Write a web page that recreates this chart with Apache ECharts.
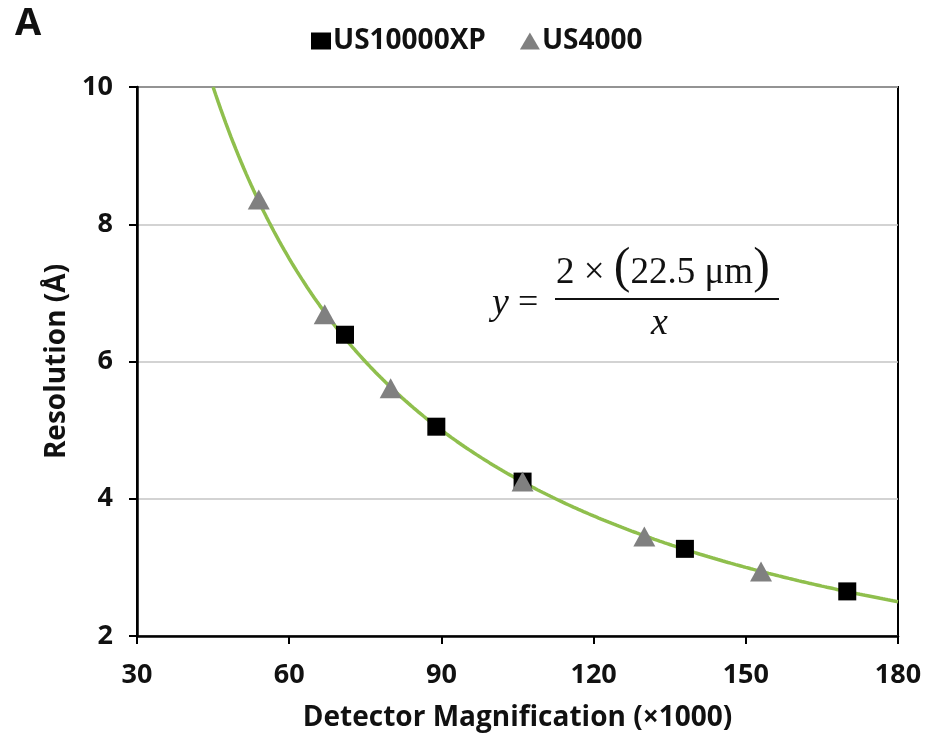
<!DOCTYPE html>
<html>
<head>
<meta charset="utf-8">
<script src="https://cdn.jsdelivr.net/npm/echarts@6/dist/echarts.min.js"></script>
<style>
  html, body { margin: 0; padding: 0; background: #fff; }
  #chart { width: 927px; height: 737px; }
</style>
</head>
<body>
<div id="chart"></div>
<script>
// Measured resolution (Å) against detector magnification (×1000)
const us10000xpMag = [71, 89, 106, 138, 170];
const us10000xpRes = [6.39, 5.05, 4.25, 3.27, 2.65];
const us4000Mag = [54, 67, 80, 106, 130, 153];
const us4000Res = [8.36, 6.69, 5.61, 4.25, 3.45, 2.94];

// Axis ticks
const xTicks = [30, 60, 90, 120, 150, 180];
const yTicks = [2, 4, 6, 8, 10];

// Theoretical limit: y = 2 × (pixel size) / x, pixel size in µm
const PIXEL_SIZE_UM = 22.5;
const CURVE_START = 45;
const CURVE_END = 180;
function nyquistAngstrom(magThousands) {
  // µm -> Å is ×1e4; magnification given in thousands
  return (2 * PIXEL_SIZE_UM * 1e4) / (magThousands * 1000);
}
const curve = [];
for (let m = CURVE_START; m <= CURVE_END; m += 0.5) {
  curve.push([m, nyquistAngstrom(m)]);
}

const pair = (xs, ys) => xs.map((x, i) => [x, ys[i]]);

const FONT = "'Open Sans', 'Noto Sans', sans-serif";
const SERIF = "'Liberation Serif', 'DejaVu Serif', serif";

const chart = echarts.init(document.getElementById('chart'), null, { renderer: 'canvas' });
chart.setOption({
  animation: false,
  backgroundColor: '#ffffff',
  title: {
    text: 'A',
    left: 10,
    top: 0,
    textStyle: { fontFamily: FONT, fontWeight: 'bold', fontSize: 38, color: '#111' }
  },
  legend: {
    left: 306,
    top: 22,
    itemWidth: 20,
    itemHeight: 17,
    itemGap: 34,
    textStyle: { fontFamily: FONT, fontWeight: 'bold', fontSize: 28, color: '#111', padding: [0, 0, 0, -3] },
    data: [
      { name: 'US10000XP', icon: 'rect' },
      { name: 'US4000', icon: 'triangle' }
    ]
  },
  grid: {
    left: 137,
    right: 29,
    top: 87,
    bottom: 101,
    show: true,
    borderColor: '#000',
    borderWidth: 2,
    backgroundColor: 'transparent'
  },
  xAxis: {
    type: 'value',
    min: xTicks[0],
    max: xTicks[xTicks.length - 1],
    interval: 30,
    name: 'Detector Magnification (×1000)',
    nameLocation: 'middle',
    nameGap: 68,
    nameTextStyle: { fontFamily: FONT, fontWeight: 'bold', fontSize: 28, color: '#111' },
    axisLine: { show: true, lineStyle: { color: '#000', width: 2.5 } },
    axisTick: { show: true, inside: false, length: 8, lineStyle: { color: '#000', width: 2 } },
    axisLabel: { margin: 26, fontFamily: FONT, fontWeight: 'bold', fontSize: 27, color: '#111' },
    splitLine: { show: false }
  },
  yAxis: {
    type: 'value',
    min: yTicks[0],
    max: yTicks[yTicks.length - 1],
    interval: 2,
    name: 'Resolution (Å)',
    nameLocation: 'middle',
    nameRotate: 90,
    nameGap: 62,
    nameTextStyle: { fontFamily: FONT, fontWeight: 'bold', fontSize: 28, color: '#111' },
    axisLine: { show: true, lineStyle: { color: '#000', width: 2.5 } },
    axisTick: { show: true, inside: false, length: 8, lineStyle: { color: '#000', width: 2 } },
    axisLabel: { margin: 24, fontFamily: FONT, fontWeight: 'bold', fontSize: 27, color: '#111' },
    splitLine: { show: true, lineStyle: { color: '#c4c4c4', width: 1.5 } }
  },
  graphic: [
    {
      type: 'text',
      left: 492,
      top: 285,
      style: { text: 'y', font: 'italic 38px ' + SERIF, fill: '#111' }
    },
    {
      type: 'text',
      left: 518,
      top: 286,
      style: { text: '=', font: '36px ' + SERIF, fill: '#111' }
    },
    {
      type: 'text',
      left: 556,
      top: 244,
      style: {
        text: '{n|2 × }{p|(}{n|22.5 μm}{p|)}',
        rich: {
          n: { font: '37px ' + SERIF, fill: '#111', verticalAlign: 'bottom', padding: [0, 0, 2, 0] },
          p: { font: '50px ' + SERIF, fill: '#111', verticalAlign: 'bottom' }
        }
      }
    },
    {
      type: 'rect',
      shape: { x: 555, y: 298, width: 224, height: 2 },
      style: { fill: '#111' }
    },
    {
      type: 'text',
      left: 651,
      top: 305,
      style: { text: 'x', font: 'italic 38px ' + SERIF, fill: '#111' }
    }
  ],
  series: [
    {
      name: 'Fit',
      type: 'line',
      data: curve,
      showSymbol: false,
      smooth: false,
      lineStyle: { color: '#8fbf4d', width: 3.5 },
      z: 2,
      silent: true
    },
    {
      name: 'US10000XP',
      type: 'scatter',
      data: pair(us10000xpMag, us10000xpRes),
      symbol: 'rect',
      symbolSize: 18,
      itemStyle: { color: '#000000', opacity: 1 },
      z: 3
    },
    {
      name: 'US4000',
      type: 'scatter',
      data: pair(us4000Mag, us4000Res),
      symbol: 'triangle',
      symbolSize: [22, 20],
      itemStyle: { color: '#808080', opacity: 1 },
      z: 4
    }
  ]
});
</script>
</body>
</html>
